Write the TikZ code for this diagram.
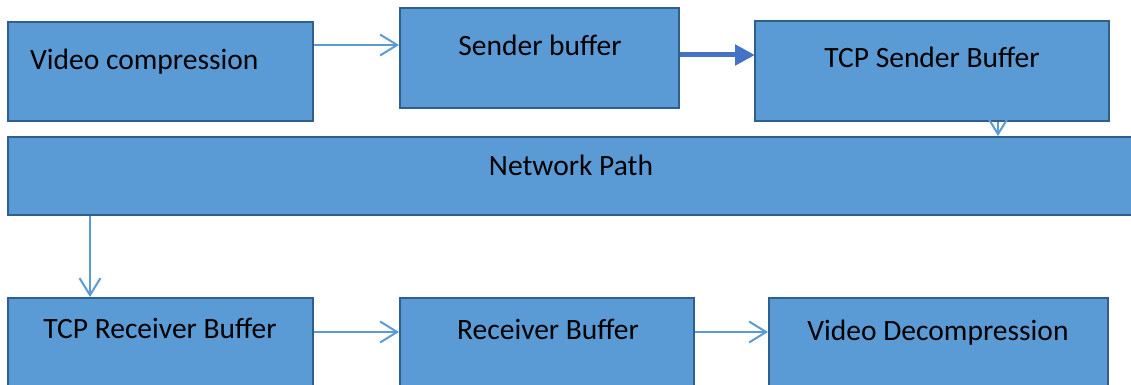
\documentclass[tikz,border=0pt]{standalone}
\usepackage{fontspec}
\setmainfont{Carlito}
\usetikzlibrary{arrows.meta}
\definecolor{boxfill}{HTML}{5B9BD5}
\definecolor{boxline}{HTML}{2F5F8A}
\definecolor{thinline}{HTML}{5B9BD5}
\definecolor{thickline}{HTML}{4472C4}
\tikzset{
  blk/.style={draw=boxline, fill=boxfill, line width=2.5pt},
  lbl/.style={font=\fontsize{29.5}{34}\selectfont, text=black, inner sep=0pt, anchor=base},
  thin/.style={draw=thinline, line width=2pt, -{Straight Barb[length=17pt,width=21pt]}},
  thick/.style={draw=thickline, line width=5pt, -{Triangle[length=20pt,width=20pt]}}
}
\begin{document}
\begin{tikzpicture}[x=1pt,y=-1pt]
\useasboundingbox (0,0) rectangle (1131,385);
\clip (0,0) rectangle (1131,385);
% boxes
\path[blk] (8,22) rectangle (313,121) node[pos=0.5] (vc) {};
\path[blk] (400,8) rectangle (679,108) node[pos=0.5] (sb) {};
\path[blk] (755,21) rectangle (1109,121) node[pos=0.5] (tsb) {};
\path[blk] (8,137) rectangle (1140,215) node[pos=0.5] (np) {};
\path[blk] (8,298) rectangle (313,400) node[pos=0.5] (trb) {};
\path[blk] (400,298) rectangle (694,400) node[pos=0.5] (rb) {};
\path[blk] (769,298) rectangle (1108,400) node[pos=0.5] (vd) {};
% coordinates on box edges
\coordinate (vcE) at (314,45);
\coordinate (sbW) at (399,45);
\coordinate (sbE) at (680,55);
\coordinate (tsbW) at (755,55);
\coordinate (tsbS) at (998,122);
\coordinate (npN) at (998,136);
\coordinate (npS) at (90,216);
\coordinate (trbN) at (90,297);
\coordinate (trbE) at (314,332);
\coordinate (rbW) at (399,332);
\coordinate (rbE) at (695,332);
\coordinate (vdW) at (768,332);
% labels
\node[lbl, anchor=base west] (tvc) at (30,70) {Video compression};
\node[lbl] (tsbuf) at (540,56) {Sender buffer};
\node[lbl] (ttsb) at (932,68) {TCP Sender Buffer};
\node[lbl] (tnp) at (571,175) {Network Path};
\node[lbl] (ttrb) at (160,338) {TCP Receiver Buffer};
\node[lbl] (trbuf) at (548,339) {Receiver Buffer};
\node[lbl] (tvd) at (938,340) {Video Decompression};
% connectors
\draw[thin] (vcE) -- (sbW);
\draw[thick] (sbE) -- (tsbW);
\draw[thin] (tsbS) -- (npN);
\draw[thin] (npS) -- (trbN);
\draw[thin] (trbE) -- (rbW);
\draw[thin] (rbE) -- (vdW);
\end{tikzpicture}
\end{document}
